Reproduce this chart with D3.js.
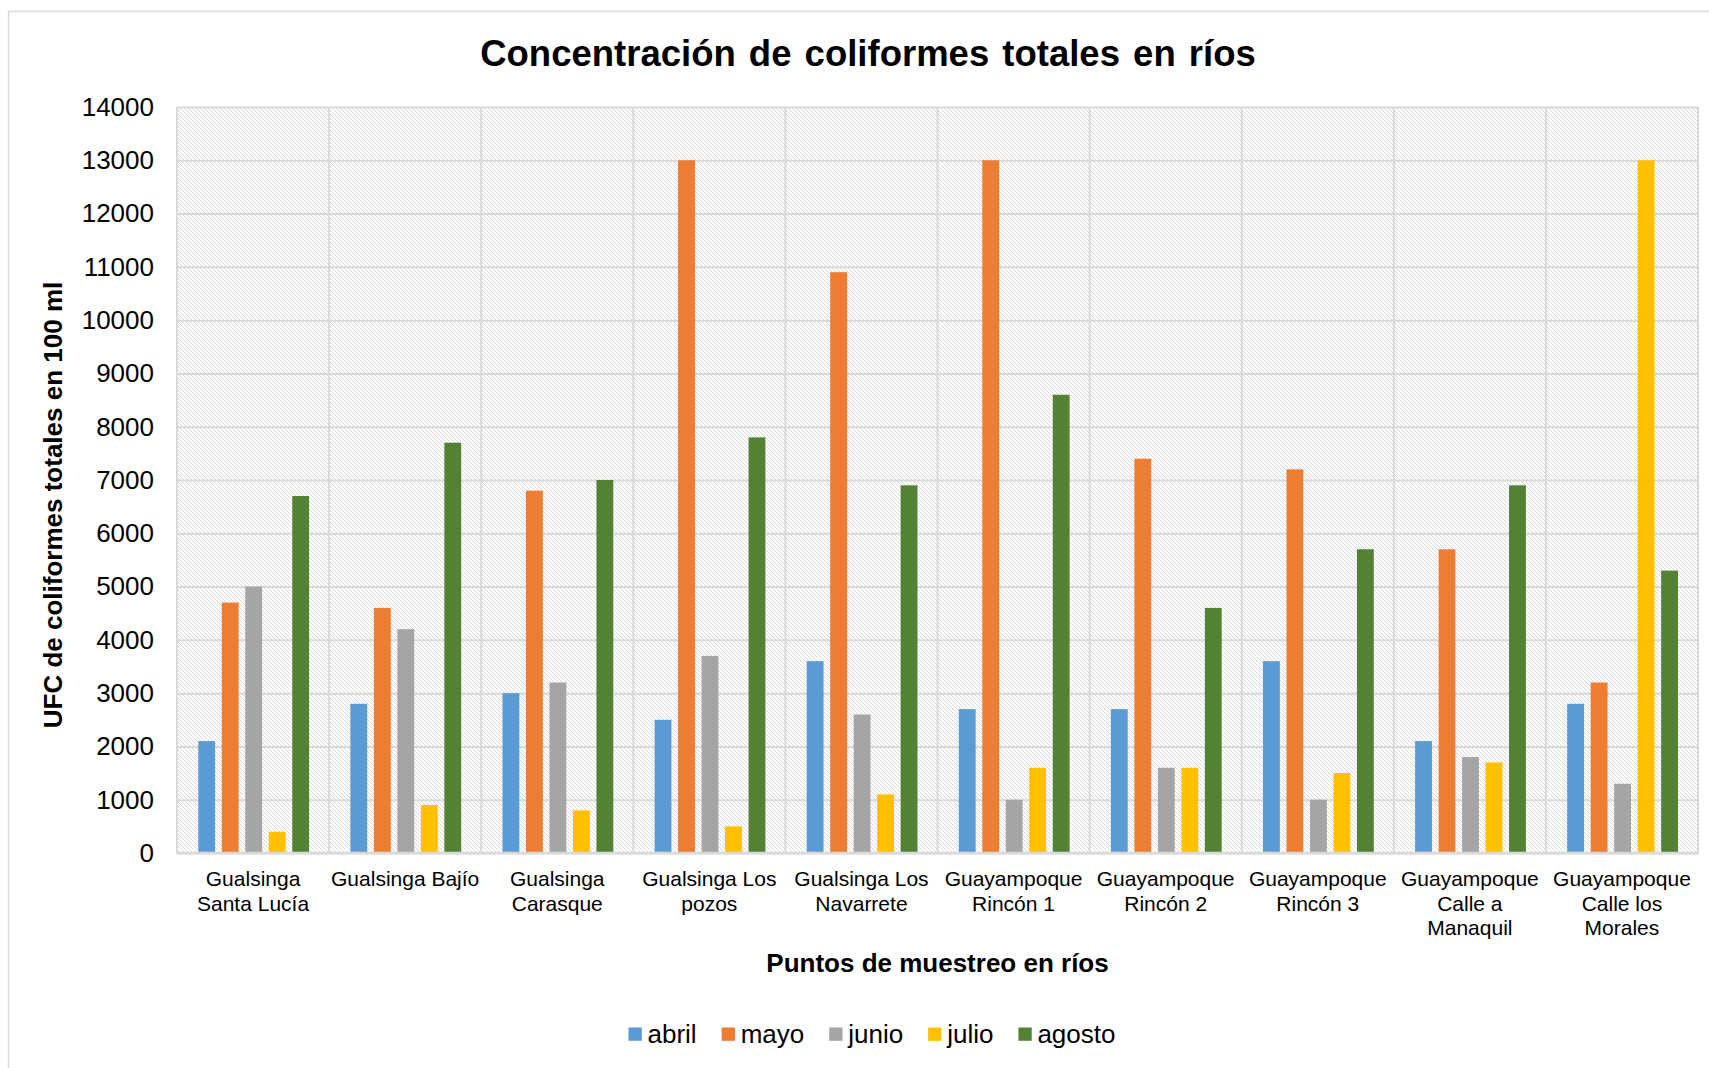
<!DOCTYPE html>
<html>
<head>
<meta charset="utf-8">
<script src="https://cdn.jsdelivr.net/npm/d3@7"></script>
<style>
  body { margin: 0; background: #fff; }
  svg { font-family: "Liberation Sans", Arial, sans-serif; }
</style>
</head>
<body>
<svg id="chart"></svg>
<script>
// categories (each entry = lines of the tick label)
const categories = [
    ["Gualsinga", "Santa Lucía"],
    ["Gualsinga Bajío"],
    ["Gualsinga", "Carasque"],
    ["Gualsinga Los", "pozos"],
    ["Gualsinga Los", "Navarrete"],
    ["Guayampoque", "Rincón 1"],
    ["Guayampoque", "Rincón 2"],
    ["Guayampoque", "Rincón 3"],
    ["Guayampoque", "Calle a", "Manaquil"],
    ["Guayampoque", "Calle los", "Morales"]
];
const months = ["abril", "mayo", "junio", "julio", "agosto"];

// values per month, one per category
const abril  = [2100, 2800, 3000, 2500, 3600, 2700, 2700, 3600, 2100, 2800];
const mayo   = [4700, 4600, 6800, 13000, 10900, 13000, 7400, 7200, 5700, 3200];
const junio  = [5000, 4200, 3200, 3700, 2600, 1000, 1600, 1000, 1800, 1300];
const julio  = [400, 900, 800, 500, 1100, 1600, 1600, 1500, 1700, 13000];
const agosto = [6700, 7700, 7000, 7800, 6900, 8600, 4600, 5700, 6900, 5300];

const yTicks = d3.range(0, 14001, 1000);

const colors = ["#5B9BD5", "#ED7D31", "#A5A5A5", "#FFC000", "#548235"];
const series = [abril, mayo, junio, julio, agosto];

const W = 1709, H = 1068;
const plot = {left: 177, right: 1698, top: 107, bottom: 853};
const gridColor = "#d9d9d9";

const svg = d3.select("#chart").attr("width", W).attr("height", H);

// chart border (extends past the picture on right/bottom)
svg.append("rect")
    .attr("x", 8.5).attr("y", 11.5)
    .attr("width", 1740).attr("height", 1100)
    .attr("fill", "#fff")
    .attr("stroke", gridColor).attr("stroke-width", 1.5);

// hatch pattern for plot background
const defs = svg.append("defs");
defs.append("pattern")
    .attr("id", "hatch")
    .attr("patternUnits", "userSpaceOnUse")
    .attr("width", 4).attr("height", 4)
    .append("path")
    .attr("d", "M-1,-1 L5,5 M-1,3 L1,5 M3,-1 L5,1")
    .attr("stroke", "#d2d2d2")
    .attr("stroke-width", 0.85);

const x0 = d3.scaleBand()
    .domain(d3.range(categories.length))
    .range([plot.left, plot.right])
    .padding(0);

const x1 = d3.scaleBand()
    .domain(months)
    .range([21.3, x0.bandwidth() - 20])
    .paddingInner(0.283)
    .paddingOuter(0);

const y = d3.scaleLinear()
    .domain([0, 14000])
    .range([plot.bottom, plot.top]);

svg.append("rect")
    .attr("x", plot.left).attr("y", plot.top)
    .attr("width", plot.right - plot.left)
    .attr("height", plot.bottom - plot.top)
    .attr("fill", "url(#hatch)");

// horizontal gridlines
svg.append("g")
    .attr("transform", `translate(${plot.left},0)`)
    .call(d3.axisLeft(y).tickValues(yTicks).tickSize(-(plot.right - plot.left)).tickFormat(""))
    .call(g => g.select(".domain").remove())
    .call(g => g.selectAll("line").attr("stroke", gridColor).attr("stroke-width", 2));

// vertical gridlines at category boundaries
svg.append("g")
    .selectAll("line")
    .data(d3.range(categories.length + 1))
    .join("line")
    .attr("x1", i => i < categories.length ? x0(i) : plot.right)
    .attr("x2", i => i < categories.length ? x0(i) : plot.right)
    .attr("y1", plot.top).attr("y2", plot.bottom)
    .attr("stroke", gridColor).attr("stroke-width", 2);

// bars
const groups = svg.append("g")
    .selectAll("g")
    .data(categories.map((c, i) => i))
    .join("g")
    .attr("transform", i => `translate(${x0(i)},0)`);

groups.selectAll("rect")
    .data(i => months.map((m, k) => ({month: m, value: series[k][i], k: k})))
    .join("rect")
    .attr("x", d => x1(d.month))
    .attr("width", x1.bandwidth())
    .attr("y", d => y(d.value))
    .attr("height", d => y(0) - y(d.value))
    .attr("fill", d => colors[d.k]);

// bottom axis line
svg.append("line")
    .attr("x1", plot.left - 1).attr("x2", plot.right + 1)
    .attr("y1", plot.bottom).attr("y2", plot.bottom)
    .attr("stroke", gridColor).attr("stroke-width", 2.5);

// y axis labels
svg.append("g")
    .attr("transform", `translate(${plot.left},0)`)
    .call(d3.axisLeft(y).tickValues(yTicks).tickSize(0).tickPadding(23).tickFormat(d3.format("d")))
    .call(g => g.select(".domain").remove())
    .call(g => g.selectAll("text")
        .attr("font-family", "'Liberation Sans', Arial, sans-serif")
        .attr("font-size", 26).attr("fill", "#000"));

// x axis labels (multi-line)
const xAxisG = svg.append("g")
    .attr("transform", `translate(0,${plot.bottom})`)
    .call(d3.axisBottom(x0).tickSize(0).tickFormat(""))
    .call(g => g.select(".domain").remove());

xAxisG.selectAll(".tick").each(function(i) {
    const t = d3.select(this).append("text")
        .attr("text-anchor", "middle")
        .attr("font-family", "'Liberation Sans', Arial, sans-serif")
        .attr("font-size", 21)
        .attr("fill", "#000");
    categories[i].forEach((line, j) => {
        t.append("tspan").attr("x", 0).attr("y", 33 + j * 24.5).text(line);
    });
});

// title
svg.append("text")
    .attr("x", 868).attr("y", 66)
    .attr("text-anchor", "middle")
    .attr("font-size", 36.5).attr("font-weight", "bold")
    .attr("word-spacing", 3)
    .text("Concentración de coliformes totales en ríos");

// axis titles
svg.append("text")
    .attr("x", (plot.left + plot.right) / 2).attr("y", 972)
    .attr("text-anchor", "middle")
    .attr("font-size", 26).attr("font-weight", "bold")
    .text("Puntos de muestreo en ríos");

svg.append("text")
    .attr("transform", "translate(62,505) rotate(-90)")
    .attr("text-anchor", "middle")
    .attr("font-size", 26).attr("font-weight", "bold")
    .text("UFC de coliformes totales en 100 ml");

// legend
const legend = svg.append("g");
const legendGap = 25;
let lx = 0;
months.forEach((m, k) => {
    const item = legend.append("g").attr("transform", `translate(${lx},0)`);
    item.append("rect")
        .attr("x", 0).attr("y", -15.5)
        .attr("width", 13.3).attr("height", 13.3)
        .attr("fill", colors[k]);
    const txt = item.append("text")
        .attr("x", 19).attr("y", 0)
        .attr("font-size", 26)
        .text(m);
    lx += 19 + txt.node().getComputedTextLength() + legendGap;
});
const legendWidth = lx - legendGap;
legend.attr("transform", `translate(${872 - legendWidth / 2},1043)`);
</script>
</body>
</html>
